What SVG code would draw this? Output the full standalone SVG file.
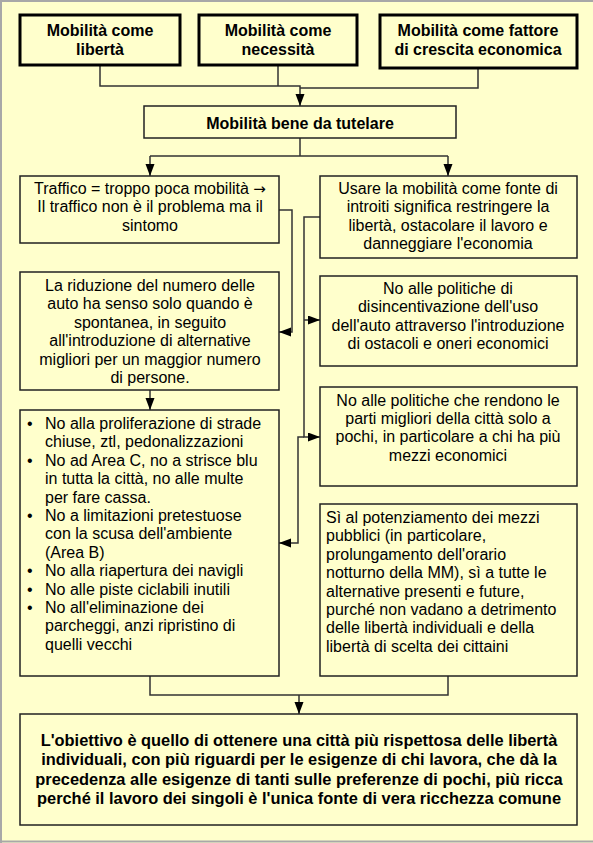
<svg xmlns="http://www.w3.org/2000/svg" width="593" height="843" viewBox="0 0 593 843">
<defs>
<style>
.bg{fill:#FFFFCC}
.top{fill:#FFFFCC;stroke:#000;stroke-width:3}
.box{fill:#FFFFCC;stroke:#222;stroke-width:1.5}
.c{fill:none;stroke:#333;stroke-width:1.5}
text{font-family:"Liberation Sans",Arial,sans-serif;font-size:16px;fill:#000}
.b{font-weight:bold}
.m{text-anchor:middle}
.big{font-size:16.4px}
</style>
<marker id="ah" markerUnits="userSpaceOnUse" markerWidth="12" markerHeight="10" refX="12" refY="4.5" orient="auto">
<path d="M0,0 L12,4.5 L0,9 z" fill="#000"/>
</marker>
</defs>
<rect class="bg" x="0" y="0" width="593" height="843"/>
<path d="M1,843 V1 H593 M0,841.5 H593" fill="none" stroke="#a8a8a8" stroke-width="2"/>

<g id="connectors">
<path class="c" d="M100,66 V86 H300 V106" marker-end="url(#ah)"/>
<path class="c" d="M278,66 V86"/>
<path class="c" d="M478,69 V88 H300"/>
<path class="c" d="M300,138 V156 M150,156 H448"/>
<path class="c" d="M150,156 V176" marker-end="url(#ah)"/>
<path class="c" d="M448,156 V176" marker-end="url(#ah)"/>
<path class="c" d="M279,210 H292 V332 H279" marker-end="url(#ah)"/>
<path class="c" d="M320,217 H304 V437 H320" marker-end="url(#ah)"/>
<path class="c" d="M304,320 H320" marker-end="url(#ah)"/>
<path class="c" d="M304,437 H298 V543 H279" marker-end="url(#ah)"/>
<path class="c" d="M150,390 V410" marker-end="url(#ah)"/>
<path class="c" d="M150,676 V695 H448 V676"/>
<path class="c" d="M299,695 V714" marker-end="url(#ah)"/>
</g>

<g id="n1">
<rect class="top" x="20" y="15" width="160" height="50"/>
<text class="b m" x="100" y="36">Mobilità come</text>
<text class="b m" x="100" y="55">libertà</text>
</g>
<g id="n2">
<rect class="top" x="199" y="15" width="158" height="50"/>
<text class="b m" x="278" y="36">Mobilità come</text>
<text class="b m" x="278" y="55">necessità</text>
</g>
<g id="n3">
<rect class="top" x="380" y="15" width="197" height="53"/>
<text class="b m" x="478" y="36">Mobilità come fattore</text>
<text class="b m" x="478" y="55">di crescita economica</text>
</g>
<g id="n4">
<rect class="box" x="144" y="106" width="312" height="32"/>
<text class="b m" x="300" y="129">Mobilità bene da tutelare</text>
</g>
<g id="n5">
<rect class="box" x="20" y="176" width="259" height="67"/>
<text class="m" x="150" y="194">Traffico = troppo poca mobilità <tspan style="font-family:'DejaVu Sans',sans-serif;font-size:15px">→</tspan></text>
<text class="m" x="150" y="212.4">Il traffico non è il problema ma il</text>
<text class="m" x="150" y="230.8">sintomo</text>
</g>
<g id="n6">
<rect class="box" x="320" y="176" width="257" height="82"/>
<text class="m" x="448" y="194">Usare la mobilità come fonte di</text>
<text class="m" x="448" y="212.4">introiti significa restringere la</text>
<text class="m" x="448" y="230.8">libertà, ostacolare il lavoro e</text>
<text class="m" x="448" y="249.2">danneggiare l'economia</text>
</g>
<g id="n7">
<rect class="box" x="20" y="272" width="259" height="118"/>
<text class="m" x="150" y="291">La riduzione del numero delle</text>
<text class="m" x="150" y="309.4">auto ha senso solo quando è</text>
<text class="m" x="150" y="327.8">spontanea, in seguito</text>
<text class="m" x="150" y="346.2">all'introduzione di alternative</text>
<text class="m" x="150" y="364.6">migliori per un maggior numero</text>
<text class="m" x="150" y="383">di persone.</text>
</g>
<g id="n8">
<rect class="box" x="320" y="276" width="257" height="90"/>
<text class="m" x="448" y="294">No alle politiche di</text>
<text class="m" x="448" y="312.4">disincentivazione dell'uso</text>
<text class="m" x="448" y="330.8">dell'auto attraverso l'introduzione</text>
<text class="m" x="448" y="349.2">di ostacoli e oneri economici</text>
</g>
<g id="n9">
<rect class="box" x="320" y="387" width="257" height="99"/>
<text class="m" x="448" y="405.5">No alle politiche che rendono le</text>
<text class="m" x="448" y="423.9">parti migliori della città solo a</text>
<text class="m" x="448" y="442.3">pochi, in particolare a chi ha più</text>
<text class="m" x="448" y="460.7">mezzi economici</text>
</g>
<g id="n10">
<rect class="box" x="20" y="410" width="259" height="266"/>
<text x="27" y="429">•</text><text x="45" y="429">No alla proliferazione di strade</text>
<text x="45" y="447.4">chiuse, ztl, pedonalizzazioni</text>
<text x="27" y="465.8">•</text><text x="45" y="465.8">No ad Area C, no a strisce blu</text>
<text x="45" y="484.2">in tutta la città, no alle multe</text>
<text x="45" y="502.6">per fare cassa.</text>
<text x="27" y="521">•</text><text x="45" y="521">No a limitazioni pretestuose</text>
<text x="45" y="539.4">con la scusa dell'ambiente</text>
<text x="45" y="557.8">(Area B)</text>
<text x="27" y="576.2">•</text><text x="45" y="576.2">No alla riapertura dei navigli</text>
<text x="27" y="594.6">•</text><text x="45" y="594.6">No alle piste ciclabili inutili</text>
<text x="27" y="613">•</text><text x="45" y="613">No all'eliminazione dei</text>
<text x="45" y="631.4">parcheggi, anzi ripristino di</text>
<text x="45" y="649.8">quelli vecchi</text>
</g>
<g id="n11">
<rect class="box" x="320" y="504" width="257" height="172"/>
<text x="326" y="523">Sì al potenziamento dei mezzi</text>
<text x="326" y="541.4">pubblici (in particolare,</text>
<text x="326" y="559.8">prolungamento dell'orario</text>
<text x="326" y="578.2">notturno della MM), sì a tutte le</text>
<text x="326" y="596.6">alternative presenti e future,</text>
<text x="326" y="615">purché non vadano a detrimento</text>
<text x="326" y="633.4">delle libertà individuali e della</text>
<text x="326" y="651.8">libertà di scelta dei cittaini</text>
</g>
<g id="n12">
<rect class="box" x="20" y="714" width="557" height="111"/>
<text class="b m big" x="299" y="746">L'obiettivo è quello di ottenere una città più rispettosa delle libertà</text>
<text class="b m big" x="299" y="765.3">individuali, con più riguardi per le esigenze di chi lavora, che dà la</text>
<text class="b m big" x="299" y="784.6">precedenza alle esigenze di tanti sulle preferenze di pochi, più ricca</text>
<text class="b m big" x="299" y="803.9">perché il lavoro dei singoli è l'unica fonte di vera ricchezza comune</text>
</g>
</svg>
